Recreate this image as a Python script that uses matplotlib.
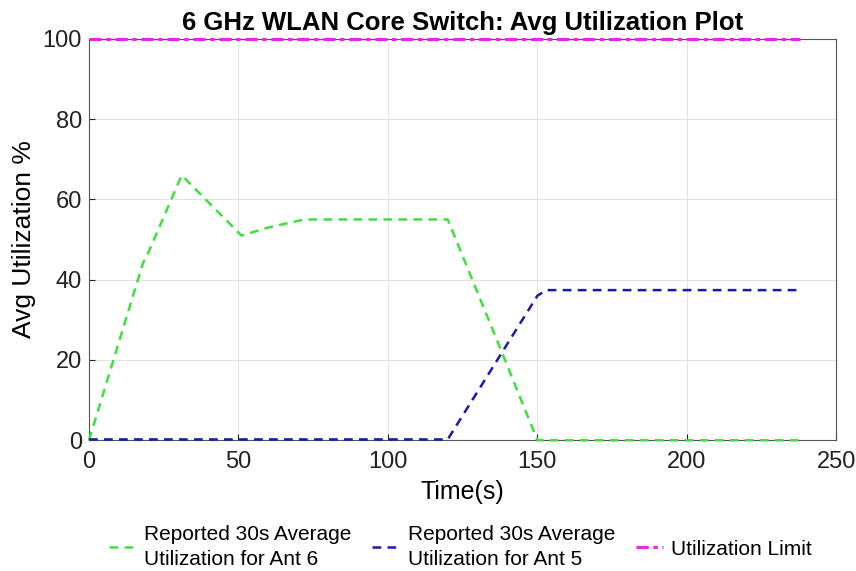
import numpy as np
import matplotlib.pyplot as plt

# Values
t_ant6 = [0, 18, 20, 31, 51, 60, 72, 120, 137, 150, 238]
util_ant6 = [0, 44, 47, 66, 51, 53, 55, 55, 24, 0, 0]

t_ant5 = [0, 120, 150, 153, 238]
util_ant5 = [0.2, 0.2, 36, 37.4, 37.4]

t_limit = [0, 238]
util_limit = [100, 100]

labels = ['Reported 30s Average\nUtilization for Ant 6',
          'Reported 30s Average\nUtilization for Ant 5',
          'Utilization Limit']

plt.rcParams['font.family'] = ['Liberation Sans', 'DejaVu Sans']
fig = plt.figure(figsize=(8.56, 5.71), dpi=100, facecolor='white')
ax = fig.add_axes([0.104, 0.229, 0.873, 0.703])

ax.plot(t_ant6, util_ant6, linestyle=(0, (3.5, 2.5)), color='#3ee03e', lw=1.8,
        label=labels[0], zorder=3, clip_on=False)
ax.plot(t_ant5, util_ant5, linestyle=(0, (3.5, 2.5)), color='#1a1ab0', lw=1.8,
        label=labels[1], zorder=3, clip_on=False)
ax.plot(t_limit, util_limit, linestyle=(0, (4, 1.5, 1.5, 1.5)), color='#ee22ee', lw=2.2,
        label=labels[2], zorder=3, clip_on=False)

ax.set_xlim(0, 250)
ax.set_ylim(0, 100)
ax.set_xticks(np.arange(0, 251, 50))
ax.set_yticks(np.arange(0, 101, 20))
ax.grid(True, color='#e3e3e3', lw=0.8)
ax.set_axisbelow(True)
for s in ax.spines.values():
    s.set_color('#555555')
    s.set_linewidth(0.8)
ax.tick_params(labelsize=17, colors='#222222', length=4, direction='in')
ax.tick_params(axis='x', pad=8)
ax.tick_params(axis='y', pad=5)

ax.set_title('6 GHz WLAN Core Switch: Avg Utilization Plot', fontsize=18.5,
             fontweight='bold', pad=6)
ax.set_xlabel('Time(s)', fontsize=18, labelpad=5)
ax.set_ylabel('Avg Utilization %', fontsize=19, labelpad=5)

leg = ax.legend(loc='upper center', bbox_to_anchor=(0.497, -0.165), ncol=3, frameon=False,
                fontsize=15, handlelength=1.3, handletextpad=0.4, columnspacing=1.0)
for txt in leg.get_texts():
    txt.set_linespacing(1.4)

plt.savefig('out.png', dpi=100)
